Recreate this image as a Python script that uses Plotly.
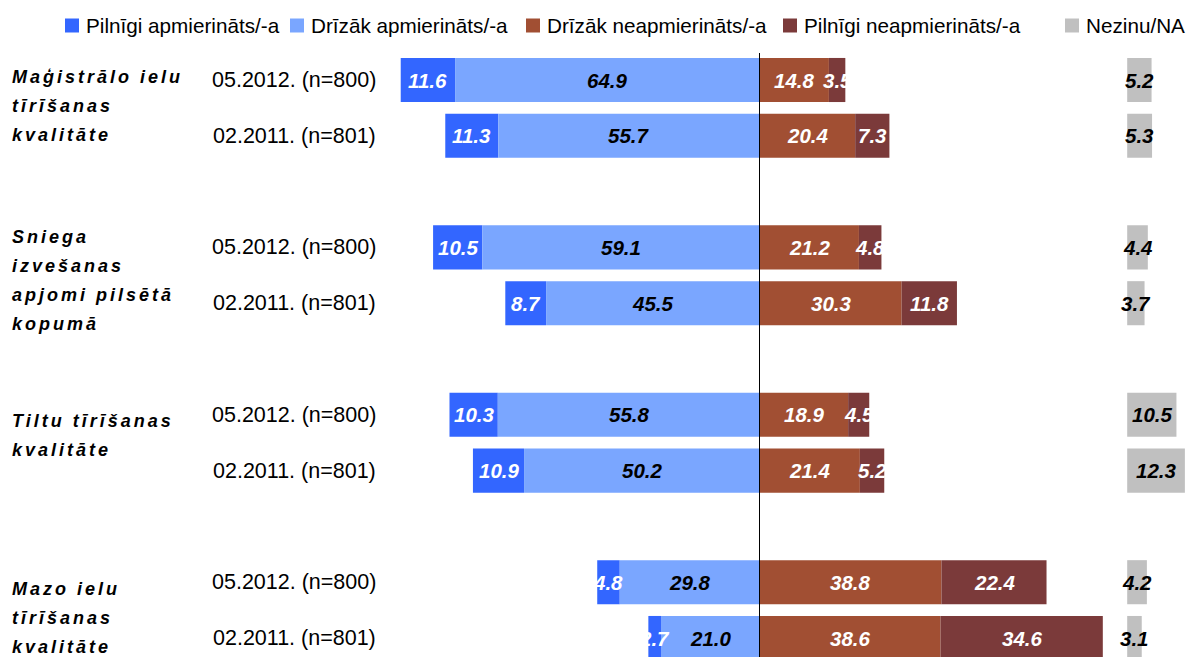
import json
import plotly.graph_objects as go

# ---- data ----
category_lines = [
    ["Maģistrālo ielu", "tīrīšanas", "kvalitāte"],
    ["Sniega", "izvešanas", "apjomi pilsētā", "kopumā"],
    ["Tiltu tīrīšanas", "kvalitāte"],
    ["Mazo ielu", "tīrīšanas", "kvalitāte"],
]
waves = ["05.2012. (n=800)", "02.2011. (n=801)"]
series_names = ["Pilnīgi apmierināts/-a", "Drīzāk apmierināts/-a",
                "Drīzāk neapmierināts/-a", "Pilnīgi neapmierināts/-a", "Nezinu/NA"]
full_sat = [11.6, 11.3, 10.5, 8.7, 10.3, 10.9, 4.8, 2.7]
rather_sat = [64.9, 55.7, 59.1, 45.5, 55.8, 50.2, 29.8, 21.0]
rather_unsat = [14.8, 20.4, 21.2, 30.3, 18.9, 21.4, 38.8, 38.6]
full_unsat = [3.5, 7.3, 4.8, 11.8, 4.5, 5.2, 22.4, 34.6]
dont_know = [5.2, 5.3, 4.4, 3.7, 10.5, 12.3, 4.2, 3.1]

colors = ["#3366FF", "#7AA6FF", "#A14F33", "#7B3A3A", "#C0C0C0"]

# ---- layout constants ----
W, H = 1188, 657
FONT = "Liberation Sans, Arial, sans-serif"
NA_BASE = 78.4  # where the Nezinu/NA column begins
group_label_shift = [2, -5, 7, -8]  # vertical nudge (px) of each category label block

# row positions: groups of two, one empty slot between groups
ypos = [g * 3 + i for g in range(len(category_lines)) for i in range(len(waves))]
bw = 0.79

fig = go.Figure()

left_base_full = [-(a + b) for a, b in zip(full_sat, rather_sat)]
left_base_rather = [-b for b in rather_sat]
right_base_full = list(rather_unsat)

fig.add_trace(go.Bar(y=ypos, x=full_sat, base=left_base_full, orientation="h",
                     marker=dict(color=colors[0], line=dict(width=0)), width=bw,
                     name=series_names[0], hoverinfo="skip"))
fig.add_trace(go.Bar(y=ypos, x=rather_sat, base=left_base_rather, orientation="h",
                     marker=dict(color=colors[1], line=dict(width=0)), width=bw,
                     name=series_names[1], hoverinfo="skip"))
fig.add_trace(go.Bar(y=ypos, x=rather_unsat, base=[0] * len(ypos), orientation="h",
                     marker=dict(color=colors[2], line=dict(width=0)), width=bw,
                     name=series_names[2], hoverinfo="skip"))
fig.add_trace(go.Bar(y=ypos, x=full_unsat, base=right_base_full, orientation="h",
                     marker=dict(color=colors[3], line=dict(width=0)), width=bw,
                     name=series_names[3], hoverinfo="skip"))
fig.add_trace(go.Bar(y=ypos, x=dont_know, base=[NA_BASE] * len(ypos), orientation="h",
                     marker=dict(color=colors[4], line=dict(width=0)), width=bw,
                     name=series_names[4], hoverinfo="skip"))

# value labels (centered on segments)
annos = []
def val_label(x, y, v, color):
    annos.append(dict(x=x, y=y, xref="x", yref="y", text=f"<b><i>{v:.1f}</i></b>",
                      showarrow=False, font=dict(family=FONT, size=20.5, color=color),
                      xanchor="center", yanchor="middle"))

for i, y in enumerate(ypos):
    val_label(left_base_full[i] + full_sat[i] / 2, y, full_sat[i], "white")
    val_label(-rather_sat[i] / 2, y, rather_sat[i], "black")
    val_label(rather_unsat[i] / 2, y, rather_unsat[i], "white")
    val_label(rather_unsat[i] + full_unsat[i] / 2, y, full_unsat[i], "white")
    val_label(NA_BASE + dont_know[i] / 2, y, dont_know[i], "black")

# wave labels
for i, y in enumerate(ypos):
    annos.append(dict(x=378 / W, xref="paper", y=y, yref="y", text=waves[i % 2],
                      showarrow=False, xanchor="right", yanchor="middle",
                      font=dict(family=FONT, size=21.5, color="black")))

# category labels
LINE = 29
for g, lines in enumerate(category_lines):
    mid = g * 3 + 0.5
    n = len(lines)
    for k, ln in enumerate(lines):
        annos.append(dict(x=10 / W, xref="paper", y=mid, yref="y",
                          yshift=-(k - (n - 1) / 2) * LINE + group_label_shift[g],
                          text=f"<b><i>{ln}</i></b>", showarrow=False,
                          xanchor="left", yanchor="middle",
                          font=dict(family=FONT, size=18, color="black")))

# manual legend
shapes = []
leg_x = [65, 290, 526, 783, 1065]
leg_y = 25.5
for name, col, lx in zip(series_names, colors, leg_x):
    shapes.append(dict(type="rect", xref="paper", yref="paper",
                       x0=lx / W, x1=(lx + 14) / W,
                       y0=1 - (leg_y + 7) / H, y1=1 - (leg_y - 7) / H,
                       fillcolor=col, line=dict(width=0)))
    annos.append(dict(x=(lx + 19) / W, xref="paper", y=1 - leg_y / H, yref="paper",
                      text=name, showarrow=False, xanchor="left", yanchor="middle",
                      font=dict(family=FONT, size=20.7, color="black")))

# center line
px_per_unit = 55.8
y_top = -80 / px_per_unit
y_bot = (H - 80) / px_per_unit
shapes.append(dict(type="line", xref="x", yref="y", x0=0, x1=0,
                   y0=(53 - 80) / px_per_unit, y1=y_bot,
                   line=dict(color="black", width=1)))

scale = 4.69
fig.update_layout(
    width=W, height=H,
    margin=dict(l=0, r=0, t=0, b=0),
    barmode="overlay",
    showlegend=False,
    plot_bgcolor="white", paper_bgcolor="white",
    xaxis=dict(range=[-759.5 / scale, (W - 759.5) / scale], visible=False, fixedrange=True),
    yaxis=dict(range=[y_bot, y_top], visible=False, fixedrange=True),
    annotations=annos,
    shapes=shapes,
    font=dict(family=FONT),
)

cat_texts = [ln for lines in category_lines for ln in lines]
post = """
document.body.style.margin='0';
document.body.style.overflow='hidden';
var cats = %s;
document.querySelectorAll('g.annotation text').forEach(function(t){
  if (cats.indexOf(t.textContent) >= 0) {
    var x0 = t.getBBox().x;
    t.style.letterSpacing = '3px';
    var x1 = t.getBBox().x;
    var tr = t.getAttribute('transform') || '';
    t.setAttribute('transform', tr + ' translate(' + (x0 - x1) + ',0)');
  }
});
""" % json.dumps(cat_texts, ensure_ascii=False)

fig.write_html("out.html", post_script=post, config={"displayModeBar": False})
